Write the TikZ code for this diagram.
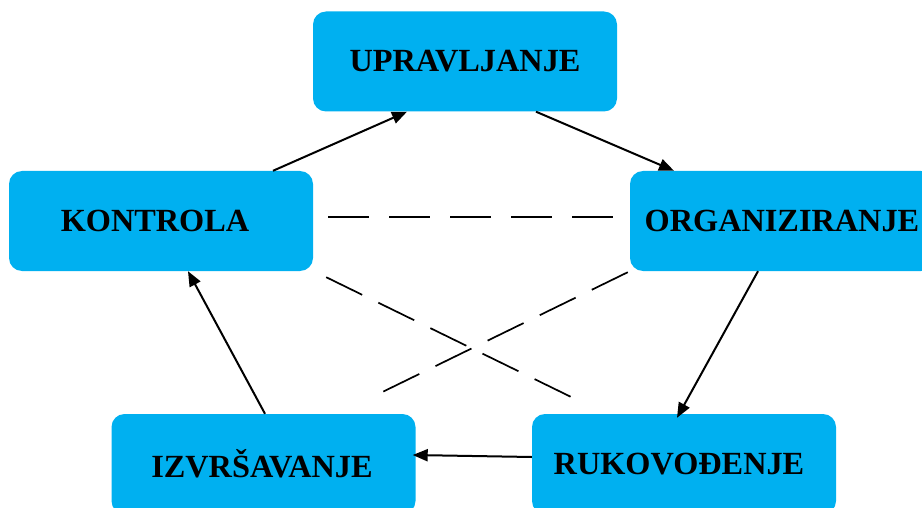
\documentclass[tikz,border=0pt]{standalone}
\usepackage{fontspec}
\setmainfont{Liberation Serif}
\usetikzlibrary{arrows.meta,calc}
\definecolor{boxblue}{HTML}{00B0F0}
\begin{document}
\begin{tikzpicture}[x=1pt,y=-1pt,
  box/.style={fill=boxblue,draw=none,rounded corners=13pt,minimum width=304pt,minimum height=100pt,
    inner sep=0pt,font=\fontsize{32.3}{38}\selectfont\bfseries},
  arr/.style={line width=2pt,-{Triangle[length=15pt,width=12pt]}},
  dsh/.style={line width=2pt,dash pattern=on 41pt off 20pt},
  dshd/.style={line width=1.7pt,dash pattern=on 40pt off 18pt}]
\useasboundingbox (0,0) rectangle (922,508);
\clip (0,0) rectangle (922,508);
\node[box] (upr) at (465,61.5) {UPRAVLJANJE};
\node[box] (kon) at (161,221) {\hspace*{-12pt}KONTROLA};
\node[box] (org) at (782,221) {ORGANIZIRANJE};
\node[box] (izv) at (263.5,464) {\hspace*{-3pt}IZVRŠAVANJE};
\node[box] (ruk) at (684,464) {\hspace*{-10pt}RUKOVOĐENJE};
% arrows
\draw[arr] ($(kon.north)+(112,0)$) -- ($(upr.south)+(-58,0)$);
\draw[arr] ($(upr.south)+(71,0)$) -- ($(org.north)+(-108,0)$);
\draw[arr] ($(org.south)+(-24,0)$) -- ($(ruk.north)+(-7,4)$);
\draw[arr] ($(ruk.west)+(0,-7)$) -- ($(izv.east)+(-3,-9)$);
\draw[arr] ($(izv.north)+(1.5,0)$) -- ($(kon.south)+(27,0)$);
% dashed
\draw[dsh] ($(kon.east)+(15,-4)$) -- ($(org.west)+(-16,-4)$);
\draw[dshd] ($(kon.south east)+(13,6)$) -- ($(ruk.north west)+(41,-16)$);
\draw[dshd] ($(org.south west)+(-2,1)$) -- ($(izv.north east)+(-37,-20)$);
\end{tikzpicture}
\end{document}
